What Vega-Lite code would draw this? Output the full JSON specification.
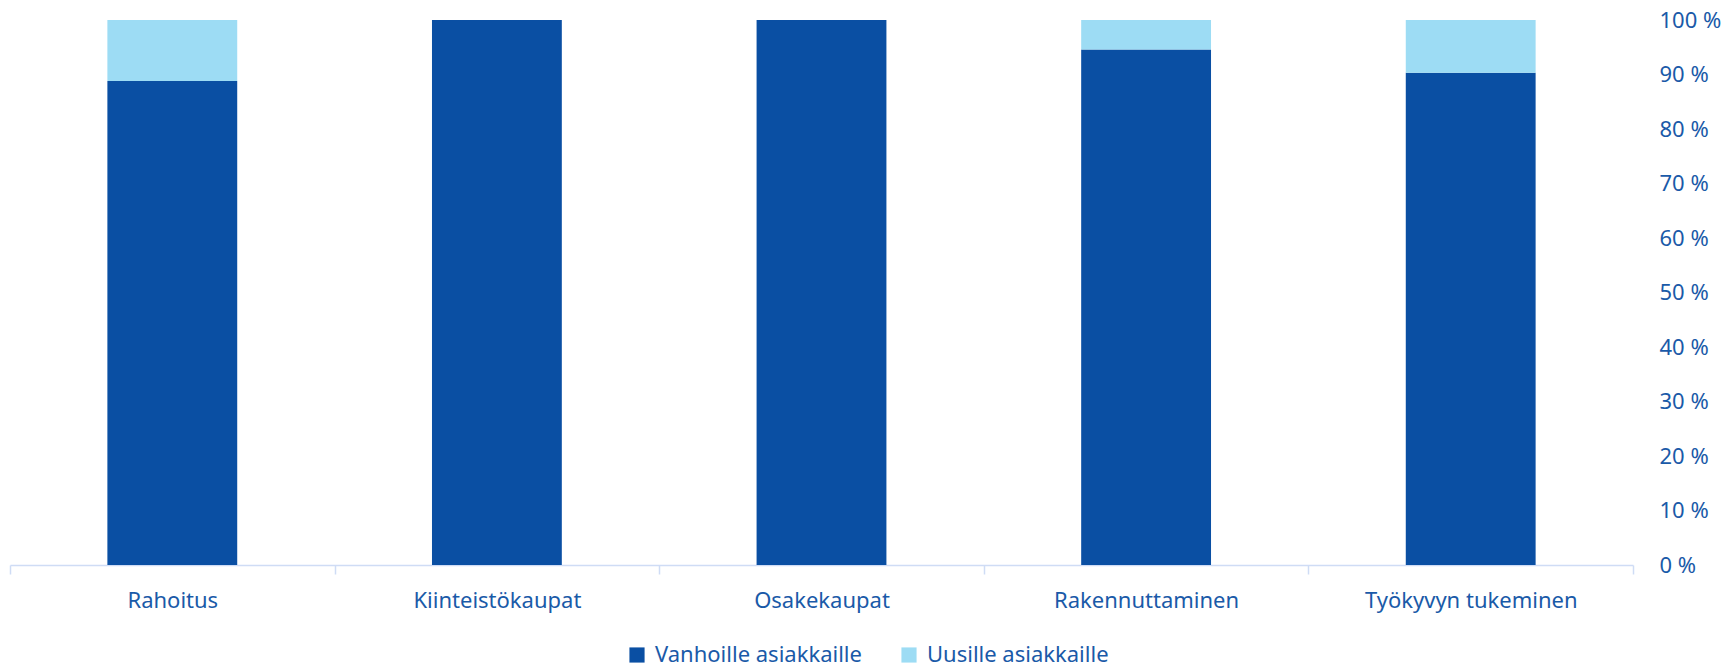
{
  "$schema": "https://vega.github.io/schema/vega-lite/v6.json",
  "autosize": "none",
  "width": 1623,
  "height": 545,
  "padding": {"left": 10, "top": 20, "right": 94, "bottom": 102},
  "background": "white",
  "config": {
    "view": {"stroke": null},
    "font": "Noto Sans"
  },
  "data": {
    "values": [
      {"kategoria": "Rahoitus", "sarja": "Vanhoille asiakkaille", "osuus": 88.8},
      {"kategoria": "Rahoitus", "sarja": "Uusille asiakkaille", "osuus": 11.2},
      {"kategoria": "Kiinteistökaupat", "sarja": "Vanhoille asiakkaille", "osuus": 100},
      {"kategoria": "Kiinteistökaupat", "sarja": "Uusille asiakkaille", "osuus": 0},
      {"kategoria": "Osakekaupat", "sarja": "Vanhoille asiakkaille", "osuus": 100},
      {"kategoria": "Osakekaupat", "sarja": "Uusille asiakkaille", "osuus": 0},
      {"kategoria": "Rakennuttaminen", "sarja": "Vanhoille asiakkaille", "osuus": 94.6},
      {"kategoria": "Rakennuttaminen", "sarja": "Uusille asiakkaille", "osuus": 5.4},
      {"kategoria": "Työkyvyn tukeminen", "sarja": "Vanhoille asiakkaille", "osuus": 90.3},
      {"kategoria": "Työkyvyn tukeminen", "sarja": "Uusille asiakkaille", "osuus": 9.7}
    ]
  },
  "mark": {"type": "bar", "width": {"band": 0.4}},
  "encoding": {
    "x": {
      "field": "kategoria",
      "type": "nominal",
      "sort": null,
      "scale": {"paddingInner": 0, "paddingOuter": 0},
      "axis": {
        "title": null,
        "labelAngle": 0,
        "labelFontSize": 22,
        "labelLimit": 400,
        "labelColor": "#1a5aa8",
        "labelPadding": 16,
        "domainColor": "#cfdcf5",
        "domainWidth": 1.5,
        "tickColor": "#cfdcf5",
        "tickWidth": 1.5,
        "tickSize": 9,
        "tickBand": "extent"
      }
    },
    "y": {
      "field": "osuus",
      "type": "quantitative",
      "stack": "zero",
      "scale": {"domain": [0, 100]},
      "axis": {
        "orient": "right",
        "title": null,
        "values": [0, 10, 20, 30, 40, 50, 60, 70, 80, 90, 100],
        "labelExpr": "datum.value + ' %'",
        "labelAlign": "left",
        "labelFontSize": 22,
        "labelColor": "#1a5aa8",
        "labelPadding": 26,
        "ticks": false,
        "domain": false,
        "grid": false
      }
    },
    "color": {
      "field": "sarja",
      "type": "nominal",
      "scale": {
        "domain": ["Vanhoille asiakkaille", "Uusille asiakkaille"],
        "range": ["#0a4fa3", "#9ddcf4"]
      },
      "legend": {
        "title": null,
        "orient": "none",
        "direction": "horizontal",
        "legendX": 616,
        "legendY": 624,
        "symbolType": "square",
        "symbolSize": 230,
        "symbolStrokeWidth": 0,
        "labelFontSize": 22,
        "labelLimit": 400,
        "labelColor": "#1a5aa8",
        "labelOffset": 7,
        "columnPadding": 36
      }
    },
    "order": {"field": "sarja", "sort": "descending"}
  }
}
